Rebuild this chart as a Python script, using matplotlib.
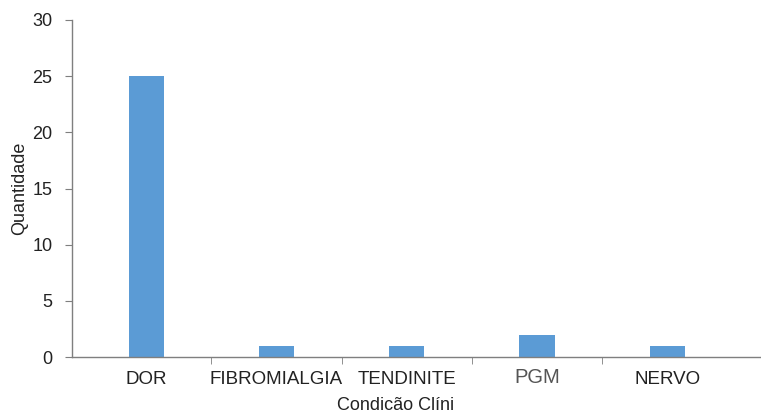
import matplotlib
matplotlib.use("Agg")
import matplotlib.pyplot as plt

categories = ["DOR", "FIBROMIALGIA", "TENDINITE", "PGM", "NERVO"]
quantidade = [25, 1, 1, 2, 1]
yticks = [0, 5, 10, 15, 20, 25, 30]

plt.rcParams["font.family"] = ["Liberation Sans", "DejaVu Sans"]

W, H = 761, 412
fig = plt.figure(figsize=(W / 100, H / 100), dpi=100)
ax = fig.add_axes([72 / W, 55 / H, (W - 72) / W, (357 - 20) / H])

x = list(range(len(categories)))
ax.bar(x, quantidade, width=0.27, color="#5B9BD5", zorder=2)

ax.set_xlim(-0.57, 4.72)
ax.set_ylim(0, 30)
ax.set_yticks(yticks)
ax.set_yticklabels([str(v) for v in yticks], fontsize=13, color="#222222")

for s in ["top", "right"]:
    ax.spines[s].set_visible(False)
for s in ["left", "bottom"]:
    ax.spines[s].set_color("#7f7f7f")
    ax.spines[s].set_linewidth(1.0)

ax.tick_params(axis="y", direction="out", length=5, color="#7f7f7f", pad=9)

# category labels centred under bars, separator ticks between categories
ax.set_xticks(x)
ax.set_xticklabels([])
ax.tick_params(axis="x", which="major", length=0)
ax.set_xticks([0.5, 1.5, 2.5, 3.5], minor=True)
ax.tick_params(axis="x", which="minor", direction="out", length=5, color="#7f7f7f")

for xi, name in zip(x, categories):
    if name == "PGM":
        ax.text(xi, -1.85, name, ha="center", va="center", fontsize=14.5,
                color="#555555", clip_on=False)
    else:
        ax.text(xi, -2.0, name, ha="center", va="center", fontsize=13.5,
                color="#222222", clip_on=False)

ax.set_ylabel("Quantidade", fontsize=13, color="#222222", labelpad=3)

# x-axis title
fig.text(337 / W, 1 - 405 / H, "Condicão Clíni", ha="left", va="center",
         fontsize=13, color="#222222")

fig.savefig("out.png", dpi=100)
